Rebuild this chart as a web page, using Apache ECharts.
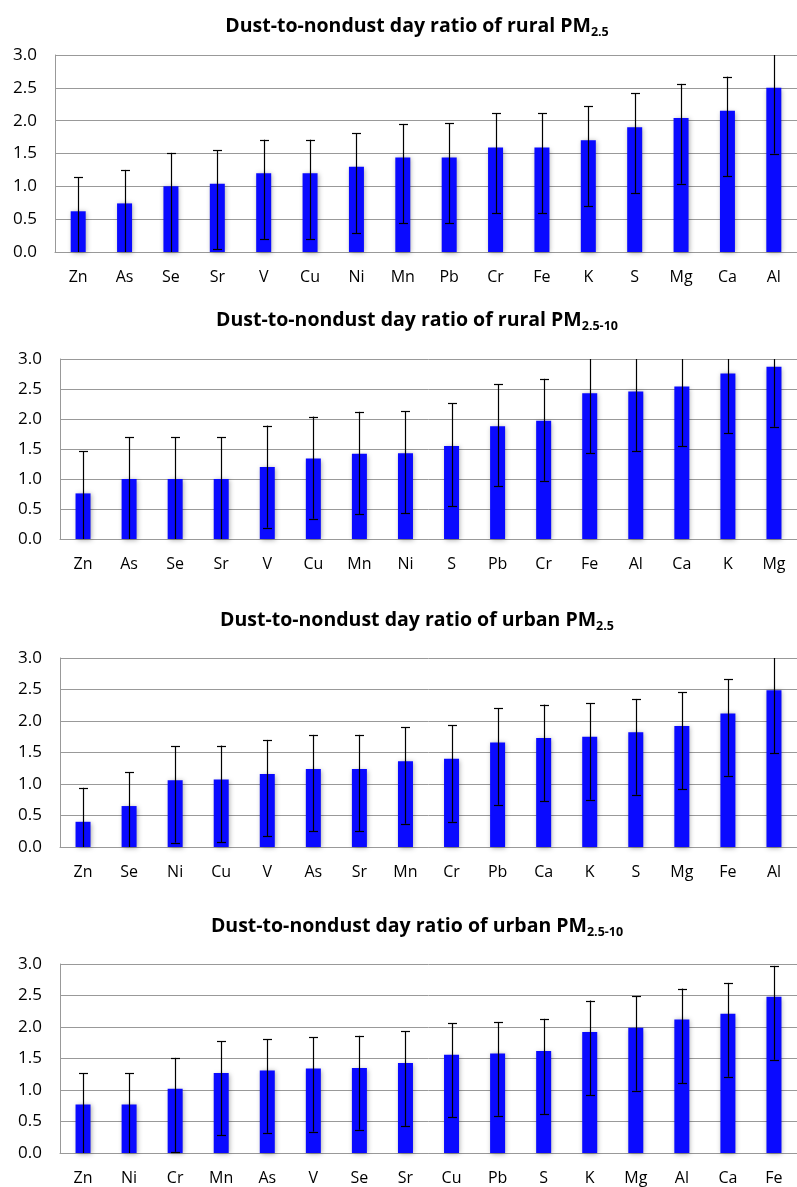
<!DOCTYPE html>
<html>
<head>
<meta charset="utf-8">
<script src="https://cdn.jsdelivr.net/npm/echarts@6/dist/echarts.min.js"></script>
<style>
    html, body {margin: 0; padding: 0; background: #fff;}
    #main {width: 797px; height: 1187px;}
</style>
</head>
<body>
<div id="main"></div>
<script>
// y axis ticks shared by all four panels
var yTicks = [0, 0.5, 1.0, 1.5, 2.0, 2.5, 3.0];

// rural PM2.5
var ruralFineCats = ['Zn', 'As', 'Se', 'Sr', 'V', 'Cu', 'Ni', 'Mn', 'Pb', 'Cr', 'Fe', 'K', 'S', 'Mg', 'Ca', 'Al'];
var ruralFineVals = [0.62, 0.74, 1.00, 1.04, 1.20, 1.20, 1.30, 1.44, 1.44, 1.59, 1.59, 1.70, 1.90, 2.04, 2.15, 2.50];
var ruralFineLow  = [0, 0, 0, 0.04, 0.20, 0.20, 0.29, 0.44, 0.44, 0.59, 0.59, 0.70, 0.90, 1.04, 1.15, 1.50];
var ruralFineHigh = [1.14, 1.25, 1.51, 1.55, 1.71, 1.71, 1.81, 1.95, 1.96, 2.11, 2.11, 2.22, 2.42, 2.56, 2.67, 3.0];

// rural PM2.5-10
var ruralCoarseCats = ['Zn', 'As', 'Se', 'Sr', 'V', 'Cu', 'Mn', 'Ni', 'S', 'Pb', 'Cr', 'Fe', 'Al', 'Ca', 'K', 'Mg'];
var ruralCoarseVals = [0.76, 1.00, 1.00, 1.00, 1.20, 1.34, 1.42, 1.43, 1.55, 1.88, 1.97, 2.43, 2.46, 2.54, 2.76, 2.87];
var ruralCoarseLow  = [0, 0, 0, 0, 0.19, 0.34, 0.41, 0.43, 0.55, 0.88, 0.97, 1.43, 1.46, 1.55, 1.76, 1.87];
var ruralCoarseHigh = [1.46, 1.70, 1.70, 1.70, 1.89, 2.04, 2.12, 2.13, 2.26, 2.58, 2.67, 3.0, 3.0, 3.0, 3.0, 3.0];

// urban PM2.5
var urbanFineCats = ['Zn', 'Se', 'Ni', 'Cu', 'V', 'As', 'Sr', 'Mn', 'Cr', 'Pb', 'Ca', 'K', 'S', 'Mg', 'Fe', 'Al'];
var urbanFineVals = [0.40, 0.65, 1.06, 1.07, 1.16, 1.24, 1.24, 1.36, 1.40, 1.66, 1.73, 1.75, 1.82, 1.92, 2.12, 2.49];
var urbanFineLow  = [0, 0, 0.07, 0.08, 0.17, 0.25, 0.25, 0.37, 0.40, 0.67, 0.73, 0.75, 0.83, 0.92, 1.13, 1.49];
var urbanFineHigh = [0.94, 1.19, 1.60, 1.61, 1.70, 1.78, 1.78, 1.90, 1.93, 2.20, 2.26, 2.28, 2.35, 2.46, 2.66, 3.0];

// urban PM2.5-10
var urbanCoarseCats = ['Zn', 'Ni', 'Cr', 'Mn', 'As', 'V', 'Se', 'Sr', 'Cu', 'Pb', 'S', 'K', 'Mg', 'Al', 'Ca', 'Fe'];
var urbanCoarseVals = [0.77, 0.77, 1.02, 1.27, 1.31, 1.34, 1.35, 1.43, 1.56, 1.58, 1.62, 1.92, 1.99, 2.12, 2.21, 2.48];
var urbanCoarseLow  = [0, 0, 0.02, 0.28, 0.32, 0.34, 0.37, 0.43, 0.57, 0.59, 0.62, 0.92, 0.99, 1.11, 1.21, 1.48];
var urbanCoarseHigh = [1.27, 1.27, 1.51, 1.77, 1.81, 1.84, 1.86, 1.93, 2.06, 2.08, 2.13, 2.42, 2.49, 2.61, 2.70, 2.97];

var panels = [
    {title: 'Dust-to-nondust day ratio of rural PM{sub|2.5}', cats: ruralFineCats, vals: ruralFineVals, low: ruralFineLow, high: ruralFineHigh,
        grid: {left: 55, top: 55, width: 749, height: 197}, titleTop: 13},
    {title: 'Dust-to-nondust day ratio of rural PM{sub|2.5-10}', cats: ruralCoarseCats, vals: ruralCoarseVals, low: ruralCoarseLow, high: ruralCoarseHigh,
        grid: {left: 60, top: 359, width: 747, height: 180}, titleTop: 307},
    {title: 'Dust-to-nondust day ratio of urban PM{sub|2.5}', cats: urbanFineCats, vals: urbanFineVals, low: urbanFineLow, high: urbanFineHigh,
        grid: {left: 60, top: 658, width: 750, height: 189}, titleTop: 607},
    {title: 'Dust-to-nondust day ratio of urban PM{sub|2.5-10}', cats: urbanCoarseCats, vals: urbanCoarseVals, low: urbanCoarseLow, high: urbanCoarseHigh,
        grid: {left: 60, top: 964, width: 747, height: 189}, titleTop: 913}
];

var FONT = '"Open Sans", "Noto Sans", sans-serif';
var GRAY = '#999';

// error bar: vertical line from low to high, caps only inside the plot
function renderErr(params, api) {
    var i = api.value(0);
    var lo = api.value(1), hi = api.value(2);
    var pLo = api.coord([i, lo]);
    var pHi = api.coord([i, hi]);
    var x = Math.round(pLo[0]) + 0.5;
    var style = {stroke: '#000', lineWidth: 1.2};
    var kids = [{type: 'line', shape: {x1: x, y1: pLo[1], x2: x, y2: pHi[1]}, style: style}];
    if (hi < 3) kids.push({type: 'line', shape: {x1: x - 4.5, y1: Math.round(pHi[1]) + 0.5, x2: x + 4.5, y2: Math.round(pHi[1]) + 0.5}, style: style});
    if (lo > 0) kids.push({type: 'line', shape: {x1: x - 4.5, y1: Math.round(pLo[1]) + 0.5, x2: x + 4.5, y2: Math.round(pLo[1]) + 0.5}, style: style});
    return {type: 'group', children: kids};
}

var option = {
    backgroundColor: '#fff',
    animation: false,
    title: [], grid: [], xAxis: [], yAxis: [], series: []
};

panels.forEach(function (p, k) {
    option.title.push({
        text: p.title,
        left: 417,
        textAlign: 'center',
        top: p.titleTop,
        padding: 0,
        textStyle: {
            fontFamily: FONT, fontWeight: 'bold', fontSize: 19.5, color: '#000', lineHeight: 26,
            rich: {
                sub: {fontFamily: FONT, fontWeight: 'bold', fontSize: 12.5, color: '#000', lineHeight: 26, padding: [13, 0, 0, 0]}
            }
        }
    });
    option.grid.push(p.grid);
    option.xAxis.push({
        type: 'category',
        gridIndex: k,
        data: p.cats,
        axisLine: {lineStyle: {color: GRAY, width: 1}},
        axisTick: {show: false},
        axisLabel: {fontFamily: FONT, fontSize: 16, color: '#000', margin: 17}
    });
    option.yAxis.push({
        type: 'value',
        gridIndex: k,
        min: 0, max: 3, interval: 0.5,
        axisLine: {show: true, lineStyle: {color: GRAY, width: 1}},
        axisTick: {show: false},
        splitLine: {lineStyle: {color: GRAY, width: 1}},
        axisLabel: {fontFamily: FONT, fontSize: 17, color: '#000', margin: 18,
            formatter: function (v) { return v.toFixed(1); }}
    });
    option.series.push({
        type: 'bar',
        xAxisIndex: k, yAxisIndex: k,
        barWidth: 15,
        itemStyle: {color: '#0a0aff', shadowBlur: 5, shadowColor: 'rgba(0,0,0,0.35)', shadowOffsetX: 1, shadowOffsetY: 1},
        data: p.vals
    });
    option.series.push({
        type: 'custom',
        xAxisIndex: k, yAxisIndex: k,
        renderItem: renderErr,
        encode: {x: 0, y: [1, 2]},
        z: 5,
        data: p.vals.map(function (v, i) { return [i, p.low[i], p.high[i]]; })
    });
});

var chart = echarts.init(document.getElementById('main'));
chart.setOption(option);
window.addEventListener('resize', function () {
    chart.resize();
});
</script>
</body>
</html>
